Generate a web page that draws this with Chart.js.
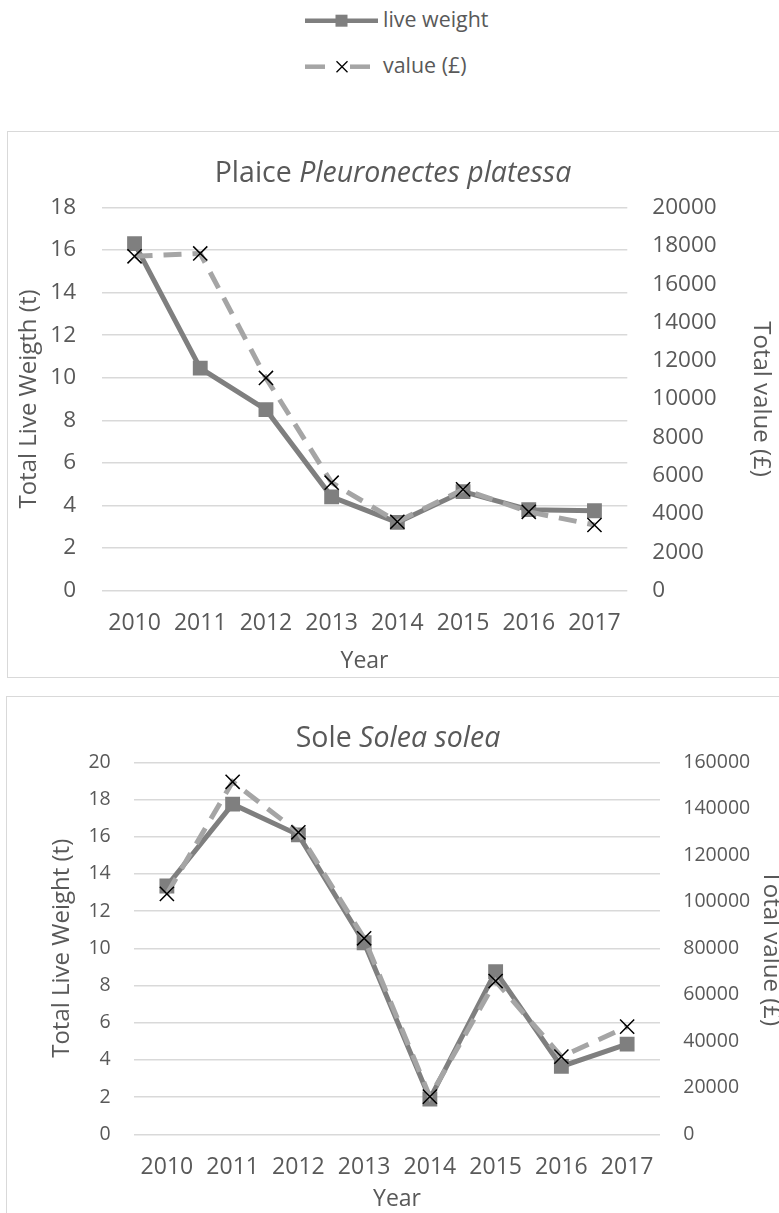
<!DOCTYPE html>
<html>
<head>
<meta charset="utf-8">
<title>Plaice and Sole landings</title>
<script src="https://cdn.jsdelivr.net/npm/chart.js@4.4.0/dist/chart.umd.min.js"></script>
<style>
  html, body { margin: 0; padding: 0; background: #fff; }
  body {
    position: relative;
    width: 779px;
    height: 1213px;
    overflow: hidden;
    font-family: "Open Sans", sans-serif;
    color: #595959;
  }
  .box { position: absolute; border: 1.5px solid #d9d9d9; box-sizing: border-box; }
  .wrap { position: absolute; left: 0; width: 800px; }
  .chart-title {
    position: absolute;
    left: 0;
    width: 786px;
    text-align: center;
    font-size: 28.5px;
    line-height: 28.5px;
    white-space: nowrap;
  }
  .legend-text { position: absolute; left: 383px; font-size: 21.4px; line-height: 21.4px; white-space: nowrap; }
  #legendKey { position: absolute; left: 0; top: 0; }
</style>
</head>
<body>
  <svg id="legendKey" width="420" height="90">
    <line x1="305" y1="20.7" x2="378" y2="20.7" stroke="#7f7f7f" stroke-width="4.5"/>
    <rect x="335.5" y="14.7" width="12" height="12" fill="#7f7f7f"/>
    <line x1="305" y1="66.7" x2="325" y2="66.7" stroke="#a5a5a5" stroke-width="4.5"/>
    <line x1="350" y1="66.7" x2="370" y2="66.7" stroke="#a5a5a5" stroke-width="4.5"/>
    <path d="M336.5 61.2 L347.5 72.2 M347.5 61.2 L336.5 72.2" stroke="#000" stroke-width="1.3"/>
  </svg>
  <div class="legend-text" style="top:7.5px">live weight</div>
  <div class="legend-text" style="top:53.7px">value (£)</div>

  <div class="box" style="left:7px; top:131px; width:800px; height:547px"></div>
  <div class="box" style="left:6px; top:696px; width:800px; height:560px"></div>

  <div class="wrap" style="top:132px; height:545px"><canvas id="plaiceChart" width="800" height="545"></canvas></div>
  <div class="wrap" style="top:697px; height:516px"><canvas id="soleChart" width="800" height="516"></canvas></div>

  <div class="chart-title" style="top:157px">Plaice <i>Pleuronectes platessa</i></div>
  <div class="chart-title" style="top:722px; width:796px">Sole <i>Solea solea</i></div>

<script>
  const years = ["2010", "2011", "2012", "2013", "2014", "2015", "2016", "2017"];

  // Plaice (Pleuronectes platessa)
  const plaiceLiveWeight = [16.3, 10.45, 8.5, 4.4, 3.2, 4.65, 3.8, 3.75];
  const plaiceValue = [17450, 17600, 11100, 5630, 3590, 5280, 4110, 3420];
  const plaiceWeightAxis = [0, 18, 2];
  const plaiceValueAxis = [0, 20000, 2000];

  // Sole (Solea solea)
  const soleLiveWeight = [13.35, 17.75, 16.1, 10.3, 1.9, 8.75, 3.65, 4.85];
  const soleValue = [103400, 151600, 129900, 84300, 16200, 65900, 33400, 46300];
  const soleWeightAxis = [0, 20, 2];
  const soleValueAxis = [0, 160000, 20000];

  const TEXT_COLOR = "#595959";
  const GRID_COLOR = "#d9d9d9";
  const WEIGHT_COLOR = "#7f7f7f";
  const VALUE_COLOR = "#a5a5a5";

  Chart.defaults.font.family = "'Open Sans', sans-serif";
  Chart.defaults.color = TEXT_COLOR;

  function fixWidth(w) {
    return (scale) => { scale.width = w; };
  }

  function fixHeight(h) {
    return (scale) => { scale.height = h; };
  }

  // plain numbers, no thousands separator
  function plainTick(value) {
    return String(value);
  }

  function buildChart(canvasId, cfg) {
    const ctx = document.getElementById(canvasId);
    return new Chart(ctx, {
      type: "line",
      data: {
        labels: years,
        datasets: [
          {
            label: "value (£)",
            data: cfg.value,
            yAxisID: "y1",
            order: 0,
            borderColor: VALUE_COLOR,
            borderWidth: 5,
            borderDash: [18, 11],
            tension: 0,
            pointStyle: "crossRot",
            pointRadius: 10,
            pointBorderColor: "#000",
            pointBorderWidth: 1.5,
            pointBackgroundColor: "#000",
          },
          {
            label: "live weight",
            data: cfg.weight,
            yAxisID: "y",
            order: 1,
            borderColor: WEIGHT_COLOR,
            borderWidth: 5,
            tension: 0,
            pointStyle: "rect",
            pointRadius: 10.5,
            pointBorderWidth: 0,
            pointBackgroundColor: WEIGHT_COLOR,
          },
        ],
      },
      options: {
        responsive: false,
        animation: false,
        devicePixelRatio: 1,
        layout: { padding: { top: cfg.top, left: 0, right: 0, bottom: 0 } },
        plugins: { legend: { display: false }, tooltip: { enabled: false } },
        scales: {
          x: {
            offset: true,
            grid: { display: false },
            border: { display: false },
            ticks: { padding: cfg.xPad, font: { size: 23 }, color: TEXT_COLOR, maxRotation: 0 },
            title: {
              display: true,
              text: "Year",
              font: { size: 23 },
              color: TEXT_COLOR,
              padding: { top: 0, bottom: cfg.yearPad },
            },
            afterFit: fixHeight(cfg.xHeight),
          },
          y: {
            position: "left",
            min: cfg.weightAxis[0],
            max: cfg.weightAxis[1],
            border: { display: false },
            grid: { color: GRID_COLOR, lineWidth: 1.5, drawTicks: false },
            ticks: {
              stepSize: cfg.weightAxis[2],
              padding: cfg.leftPad,
              font: { size: cfg.yFont },
              color: TEXT_COLOR,
              callback: plainTick,
            },
            title: {
              display: true,
              text: cfg.leftTitle,
              font: { size: 24 },
              color: TEXT_COLOR,
              padding: { top: cfg.leftTitlePad, bottom: 0 },
            },
            afterFit: fixWidth(cfg.left),
          },
          y1: {
            position: "right",
            min: cfg.valueAxis[0],
            max: cfg.valueAxis[1],
            border: { display: false },
            grid: { display: false, drawTicks: false },
            ticks: {
              stepSize: cfg.valueAxis[2],
              padding: cfg.rightPad,
              font: { size: cfg.yFont },
              color: TEXT_COLOR,
              callback: plainTick,
            },
            title: {
              display: true,
              text: "Total value (£)",
              font: { size: 24 },
              color: TEXT_COLOR,
              padding: { top: cfg.rightTitlePad, bottom: 0 },
            },
            afterFit: fixWidth(cfg.right),
          },
        },
      },
    });
  }

  buildChart("plaiceChart", {
    weight: plaiceLiveWeight,
    value: plaiceValue,
    weightAxis: plaiceWeightAxis,
    valueAxis: plaiceValueAxis,
    leftTitle: "Total Live Weigth (t)",
    top: 75.5,
    left: 101.7,
    right: 800 - 627.3,
    xHeight: 545 - 458.5,
    leftPad: 25.7,
    rightPad: 25,
    xPad: 11,
    yFont: 22.5,
    yearPad: 2,
    leftTitlePad: 14.3,
    rightTitlePad: 24.8,
  });

  buildChart("soleChart", {
    weight: soleLiveWeight,
    value: soleValue,
    weightAxis: soleWeightAxis,
    valueAxis: soleValueAxis,
    leftTitle: "Total Live Weight (t)",
    top: 65.3,
    left: 134,
    right: 800 - 660,
    xHeight: 516 - 437.3,
    leftPad: 23.3,
    rightPad: 23.3,
    xPad: 11,
    yFont: 19.5,
    yearPad: 0,
    leftTitlePad: 47.3,
    rightTitlePad: 14.8,
  });
</script>
</body>
</html>
